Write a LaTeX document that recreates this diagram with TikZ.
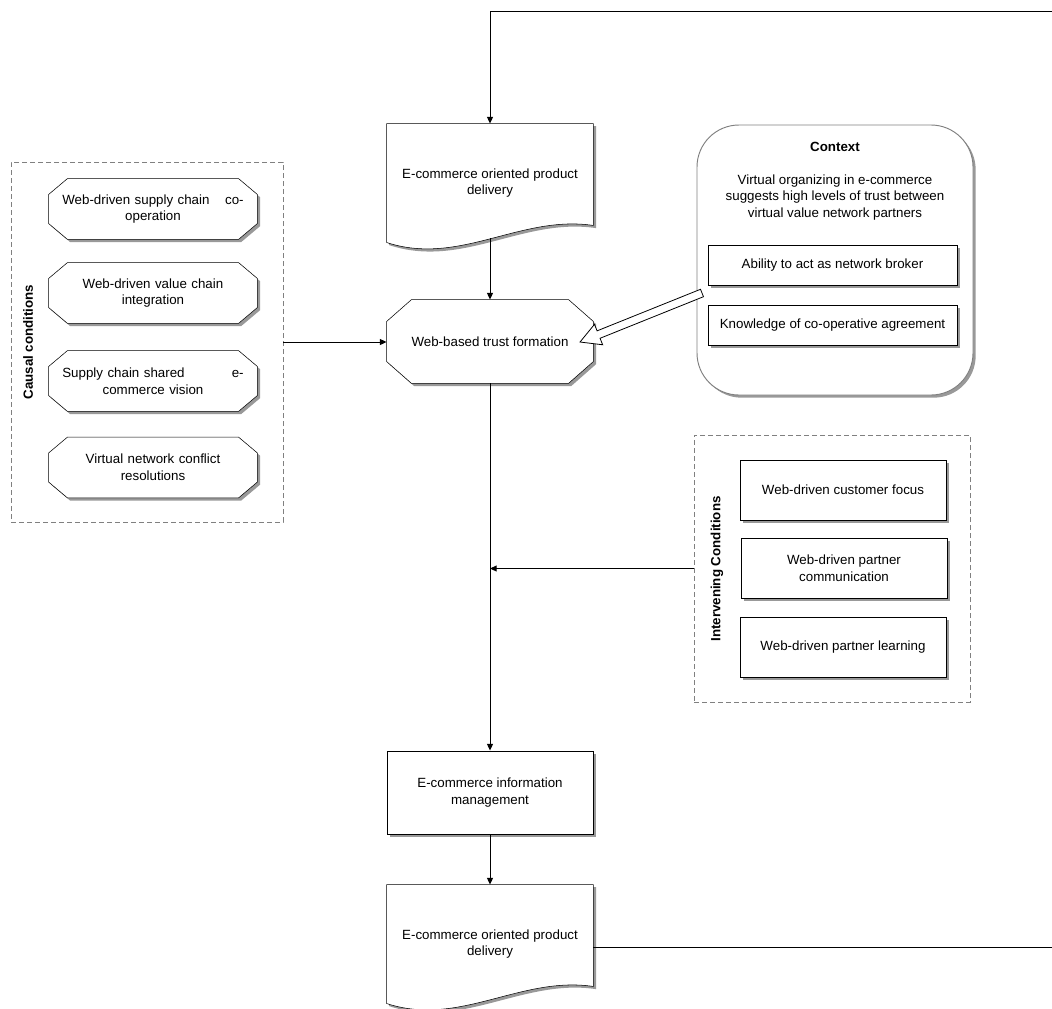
\documentclass[tikz,border=0pt]{standalone}
\usepackage{fontspec}
\setmainfont{Liberation Sans}
\usetikzlibrary{calc}
\usetikzlibrary{arrows.meta}
\usetikzlibrary{shadows,backgrounds}
% outline of a flowchart document box, wavy at the bottom
\newcommand\docpath[1]{(#1.south west) -- (#1.north west) -- (#1.north east) -- ([yshift=12.75pt]#1.south east) .. controls +(-73,-11) and +(73,24) .. (#1.south west) -- cycle}
% octagon round a node: #2 and #3 are the cut of the corners
\newcommand\octpath[3]{([xshift=#2]#1.north west) -- ([xshift=-#2]#1.north east) -- ([yshift=-#3]#1.north east) -- ([yshift=#3]#1.south east) -- ([xshift=-#2]#1.south east) -- ([xshift=#2]#1.south west) -- ([yshift=#3]#1.south west) -- ([yshift=-#3]#1.north west) -- cycle}

\begin{document}
\begin{tikzpicture}[x=0.75pt, y=-0.75pt, line width=0.7pt,
  font=\fontsize{10}{12.5}\selectfont,
  arr/.style={-{Triangle[length=5pt,width=4.5pt]}},
  boxshadow/.style={drop shadow={shadow xshift=2pt, shadow yshift=-2pt, opacity=1, fill=gray!80}},
  groupbox/.style={draw=gray, line width=0.6pt, dash pattern=on 3.5pt off 2.5pt},
  grouptitle/.style={rotate=90, font=\fontsize{10}{12.5}\selectfont\bfseries},
  plainbox/.style={draw, fill=white, boxshadow, inner sep=0pt, align=center},
  octbox/.style={inner sep=0pt, minimum width=156pt, minimum height=45pt, text width=136pt, align=center},
  doctext/.style={minimum width=154.5pt, minimum height=88.5pt, inner sep=0pt, align=center}]

\useasboundingbox (0,0) rectangle (1052,1008);

% causal conditions
\node[groupbox, minimum width=204pt, minimum height=270pt] (causal) at (147,342) {};
\node[grouptitle] (causaltitle) at (28,342) {Causal conditions};
\node[octbox] (coop) at (153,209) {Web-driven supply chain\hfill co-\\operation};
\node[octbox] (integ) at (153,293) {Web-driven value chain\\integration};
\node[octbox] (vision) at (153,381) {Supply chain shared\hfill e-\\commerce vision};
\node[octbox] (conflict) at (153,467.5) {Virtual network conflict\\resolutions};

% main chain
\node[doctext] (deliv) at (490,183) {E-commerce oriented product\\delivery};
\node[inner sep=0pt, minimum width=154.5pt, minimum height=62.25pt] (trust) at (490,341.5) {Web-based trust formation};
\node[plainbox, minimum width=154.5pt, minimum height=62.25pt] (info) at (490,792.5) {E-commerce information\\management};
\node[doctext] (deliv2) at (490,944) {E-commerce oriented product\\delivery};

\begin{scope}[on background layer]
\foreach \n in {coop,integ,vision,conflict}{
  \fill[gray!80, transform canvas={shift={(2pt,-2pt)}}] \octpath{\n}{14.25pt}{12pt};
  \filldraw[fill=white] \octpath{\n}{14.25pt}{12pt};
}
\fill[gray!80, transform canvas={shift={(2pt,-2pt)}}] \octpath{trust}{18.75pt}{16.5pt};
\filldraw[fill=white] \octpath{trust}{18.75pt}{16.5pt};
\fill[gray!80, transform canvas={shift={(2pt,-2pt)}}] \docpath{deliv};
\filldraw[fill=white] \docpath{deliv};
\fill[gray!80, transform canvas={shift={(2pt,-2pt)}}] \docpath{deliv2};
\filldraw[fill=white] \docpath{deliv2};
\end{scope}

% context
\node[draw=gray, fill=white, rounded corners=31.5pt, boxshadow,
  minimum width=207pt, minimum height=202.5pt] (context) at (835,260) {};
\node[font=\fontsize{10}{12.5}\selectfont\bfseries] (ctitle) at (835,147) {Context};
\node[align=center] (cnote) at (835,197.5) {Virtual organizing in e-commerce\\suggests high levels of trust between\\virtual value network partners};
\node[plainbox, minimum width=186.75pt, minimum height=30pt] (broker) at (832.5,265) {Ability to act as network broker};
\node[plainbox, minimum width=186.75pt, minimum height=30pt] (agree) at (832.5,325) {Knowledge of co-operative agreement};

% hollow arrow from the context into the trust box
\begin{scope}[shift={(641,317.5)}, rotate=201.9, x=1pt, y=1pt]
\filldraw[fill=white, line width=0.6pt] (-49.3,3) -- (34.3,3) -- (34.3,8.25) -- (49.3,0)
  -- (34.3,-8.25) -- (34.3,-3) -- (-49.3,-3) -- cycle;
\end{scope}

% intervening conditions
\node[groupbox, minimum width=207pt, minimum height=200.25pt] (interv) at (832,568.5) {};
\node[grouptitle] (intervtitle) at (717,569) {Intervening Conditions};
\node[plainbox, minimum width=154.5pt, minimum height=45pt] (focus) at (843,490) {Web-driven customer focus};
\node[plainbox, minimum width=154.5pt, minimum height=45pt] (comm) at (844,568) {Web-driven partner\\communication};
\node[plainbox, minimum width=154.5pt, minimum height=45pt] (learn) at (843,647) {Web-driven partner learning};

% connectors
\coordinate (back) at (1052,11);
\draw[arr] (back) -| (deliv.north);
\draw[arr] ([yshift=3pt]deliv.south) -- (trust.north);
\draw[arr] (causal.east) -- (causal.east -| trust.west);
\draw[arr] (trust.south) -- (info.north);
\draw[arr] (interv.west) -- (interv.west -| trust.south);
\draw[arr] (info.south) -- (deliv2.north);
\draw ([yshift=-2.25pt]deliv2.east) -- ([yshift=-2.25pt]deliv2.east -| back);

\end{tikzpicture}
\end{document}
